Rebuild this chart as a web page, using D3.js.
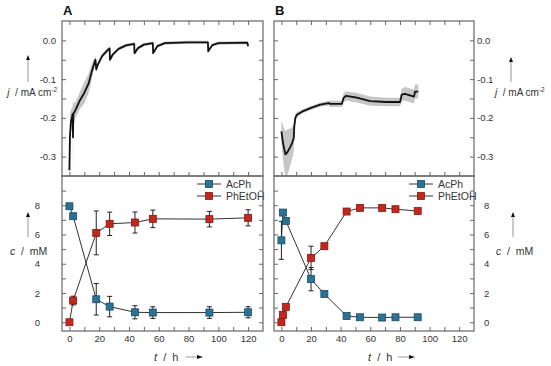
<!DOCTYPE html>
<html>
<head>
<meta charset="utf-8">
<script src="https://cdn.jsdelivr.net/npm/d3@7"></script>
<style>
body { margin: 0; background: #fff; }
svg { font-family: Arial, "Liberation Sans", sans-serif; }
.title { white-space: pre; }
</style>
</head>
<body>
<svg id="chart" width="551" height="366"></svg>
<script>
// current density traces (mean and spread), panel A
const tA = [0, 0.3, 1, 2.2, 2.4, 2.6, 4, 7, 10, 13, 15, 17, 17.5, 18, 19, 22, 26, 27, 27.2, 29, 33, 38, 43.5, 43.7, 46, 50, 56, 56.2, 59, 64, 80, 93, 93.2, 96, 100, 119.5, 120];
const jA = [-0.335, -0.25, -0.21, -0.19, -0.25, -0.19, -0.18, -0.155, -0.135, -0.11, -0.08, -0.055, -0.05, -0.075, -0.063, -0.04, -0.024, -0.021, -0.05, -0.037, -0.022, -0.013, -0.009, -0.033, -0.02, -0.011, -0.007, -0.033, -0.015, -0.007, -0.005, -0.005, -0.028, -0.012, -0.007, -0.006, -0.015];
const sA = [0.015, 0.06, 0.03, 0.02, 0.1, 0.03, 0.02, 0.022, 0.028, 0.025, 0.02, 0.012, 0.01, 0.008, 0.006, 0.006, 0.006, 0.005, 0.005, 0.005, 0.004, 0.004, 0.004, 0.005, 0.004, 0.004, 0.004, 0.005, 0.004, 0.004, 0.004, 0.004, 0.005, 0.004, 0.004, 0.004, 0.004];

// panel B
const tB = [0, 1.1, 2.7, 3.8, 5.6, 7.2, 8.3, 8.7, 9.4, 10.5, 13.9, 19.5, 26.2, 31.9, 33, 40.8, 41.9, 43.7, 50.9, 59.9, 71.1, 80.1, 81.2, 83.4, 87.9, 89.5, 90.2, 92.4];
const jB = [-0.235, -0.265, -0.294, -0.29, -0.278, -0.265, -0.253, -0.222, -0.2, -0.192, -0.184, -0.175, -0.166, -0.162, -0.164, -0.164, -0.149, -0.143, -0.148, -0.157, -0.159, -0.159, -0.14, -0.138, -0.143, -0.145, -0.132, -0.132];
const sB = [0.03, 0.045, 0.06, 0.06, 0.05, 0.04, 0.035, 0.02, 0.01, 0.007, 0.005, 0.005, 0.005, 0.006, 0.008, 0.008, 0.012, 0.012, 0.012, 0.012, 0.011, 0.011, 0.016, 0.018, 0.018, 0.018, 0.018, 0.018];

// concentrations, panel A
const timesA = [0, 2.5, 18, 27, 44, 56, 94, 120];
const acphA = [7.93, 7.25, 1.57, 1.07, 0.68, 0.66, 0.66, 0.68];
const acphErrA = [0.1, 0.1, 1.08, 0.7, 0.45, 0.4, 0.4, 0.38];
const phetA = [0, 1.48, 6.11, 6.73, 6.82, 7.07, 7.05, 7.14];
const phetErrA = [0, 0.3, 1.5, 0.8, 0.72, 0.6, 0.53, 0.55];

// concentrations, panel B
const timesB = [0, 1, 3, 20, 29, 44, 53, 68, 77, 92];
const acphB = [5.6, 7.5, 6.93, 2.95, 1.93, 0.43, 0.34, 0.32, 0.34, 0.34];
const acphErrB = [1.3, 0, 0, 0.8, 0, 0.15, 0.1, 0.1, 0.1, 0.1];
const phetB = [0, 0.5, 1.05, 4.4, 5.2, 7.57, 7.82, 7.82, 7.73, 7.6];
const phetErrB = [0, 0, 0, 0.8, 0, 0.1, 0.1, 0.1, 0.1, 0];

const seriesNames = ["AcPh", "PhEtOH"];
const seriesColors = ["#2b7396", "#c4271c"];

const xMajor = [0, 20, 40, 60, 80, 100, 120];
const xMinor = [10, 30, 50, 70, 90, 110];
const jMajor = [0, -0.1, -0.2, -0.3];
const jMinor = [-0.05, -0.15, -0.25];
const cMajor = [0, 2, 4, 6, 8];
const cMinor = [1, 3, 5, 7, 9];

const svg = d3.select("#chart");
const frameColor = "#666";
const textColor = "#333";

const yTop = d3.scaleLinear().domain([-0.35, 0.05]).range([176, 21]);
const yBot = d3.scaleLinear().domain([-0.6, 10]).range([331, 176]);

function addTicks(axisFn, scale, transform, majors, minors, fmt, pad) {
    const g = svg.append("g").attr("transform", transform);
    const major = axisFn(scale).tickValues(majors).tickSize(-4).tickPadding(pad)
        .tickFormat(fmt ? fmt : () => "");
    g.call(major);
    g.append("g").call(axisFn(scale).tickValues(minors).tickSize(-4).tickFormat(() => ""));
    g.selectAll(".domain").remove();
    g.selectAll("line").attr("stroke", frameColor);
    g.selectAll("text").attr("fill", textColor).style("font-size", "9.5px").attr("font-family", null);
    return g;
}

function arrowUp(x, y1, y2) {
    svg.append("line").attr("x1", x).attr("x2", x).attr("y1", y1).attr("y2", y2 + 4)
        .attr("stroke", "#999").attr("stroke-width", 1);
    svg.append("path").attr("d", `M${x - 2},${y2 + 5}L${x},${y2}L${x + 2},${y2 + 5}Z`).attr("fill", "#111");
}

function arrowRight(x1, x2, y) {
    svg.append("line").attr("x1", x1).attr("x2", x2 - 4).attr("y1", y).attr("y2", y)
        .attr("stroke", "#999").attr("stroke-width", 1);
    svg.append("path").attr("d", `M${x2 - 6},${y - 2}L${x2},${y}L${x2 - 6},${y + 2}Z`).attr("fill", "#111");
}

function jTitle(x, anchor) {
    const t = svg.append("text").attr("class", "title").attr("x", x).attr("y", 96).attr("text-anchor", anchor)
        .attr("fill", textColor).style("font-size", "10px");
    t.append("tspan").style("font-style", "italic").text("j");
    t.append("tspan").text("  / mA cm");
    t.append("tspan").attr("dy", -4).style("font-size", "6.5px").text("-2");
}

function cTitle(x) {
    const t = svg.append("text").attr("class", "title").attr("x", x).attr("y", 255)
        .attr("fill", textColor).style("font-size", "10.5px");
    t.append("tspan").style("font-style", "italic").text("c");
    t.append("tspan").text("  /  mM");
}

function tTitle(x) {
    const t = svg.append("text").attr("class", "title").attr("x", x).attr("y", 361)
        .attr("fill", textColor).style("font-size", "11px");
    t.append("tspan").style("font-style", "italic").text("t");
    t.append("tspan").text("  /  h");
}

function drawPanel(p) {
    const x = d3.scaleLinear().domain([-5, 130]).range([p.left, p.right]);

    const clipId = "clip" + p.name;
    svg.append("clipPath").attr("id", clipId)
        .append("rect").attr("x", p.left).attr("y", 21).attr("width", p.right - p.left).attr("height", 155);

    // top panel: current density band + mean curve
    const pts = p.t.map((t, i) => ({ t: t, j: p.j[i], s: p.s[i] }));
    const area = d3.area().x(d => x(d.t)).y0(d => yTop(d.j - d.s)).y1(d => yTop(d.j + d.s));
    const line = d3.line().x(d => x(d.t)).y(d => yTop(d.j));
    const gTop = svg.append("g").attr("clip-path", `url(#${clipId})`);
    gTop.append("path").datum(pts).attr("d", area).attr("fill", "#c6c6c6");
    gTop.append("path").datum(pts).attr("d", line).attr("fill", "none")
        .attr("stroke", "#111").attr("stroke-width", 1.8).attr("stroke-linejoin", "round");

    // bottom panel: concentrations
    const series = [
        { vals: p.acph, errs: p.acphErr, color: seriesColors[0] },
        { vals: p.phet, errs: p.phetErr, color: seriesColors[1] }
    ];
    const cLine = d3.line().x(d => x(d.t)).y(d => yBot(d.c));
    series.forEach(s => {
        const data = p.times.map((t, i) => ({ t: t, c: s.vals[i], e: s.errs[i] }));
        svg.append("path").datum(data).attr("d", cLine).attr("fill", "none")
            .attr("stroke", "#333").attr("stroke-width", 1);
        s.data = data;
    });
    series.forEach(s => {
        const eb = svg.append("g").selectAll("g").data(s.data.filter(d => d.e > 0)).join("g");
        eb.append("line").attr("x1", d => x(d.t)).attr("x2", d => x(d.t))
            .attr("y1", d => yBot(d.c - d.e)).attr("y2", d => yBot(d.c + d.e))
            .attr("stroke", "#222").attr("stroke-width", 1);
        [-1, 1].forEach(k => {
            eb.append("line").attr("x1", d => x(d.t) - 2.5).attr("x2", d => x(d.t) + 2.5)
                .attr("y1", d => yBot(d.c + k * d.e)).attr("y2", d => yBot(d.c + k * d.e))
                .attr("stroke", "#222").attr("stroke-width", 1);
        });
    });
    series.forEach(s => {
        svg.append("g").selectAll("rect").data(s.data).join("rect")
            .attr("x", d => x(d.t) - 3.5).attr("y", d => yBot(d.c) - 3.5)
            .attr("width", 7).attr("height", 7)
            .attr("fill", s.color).attr("stroke", d3.color(s.color).darker(1.2)).attr("stroke-width", 0.8);
    });

    // legend
    seriesNames.forEach((name, i) => {
        const ly = 184 + i * 12;
        svg.append("line").attr("x1", p.legendX).attr("x2", p.legendX + 24).attr("y1", ly).attr("y2", ly)
            .attr("stroke", "#333").attr("stroke-width", 1);
        svg.append("rect").attr("x", p.legendX + 8.5).attr("y", ly - 3.5).attr("width", 7).attr("height", 7)
            .attr("fill", seriesColors[i]).attr("stroke", d3.color(seriesColors[i]).darker(1.2)).attr("stroke-width", 0.8);
        svg.append("text").attr("x", p.legendX + 29).attr("y", ly + 3.7)
            .attr("fill", textColor).style("font-size", "10.5px").text(name);
    });

    // ticks
    const jFmt = d => d.toFixed(1);
    const cFmt = d => String(d);
    addTicks(d3.axisTop, x, "translate(0,21)", xMajor, xMinor, null, 3);
    addTicks(d3.axisBottom, x, "translate(0,176)", xMajor, xMinor, null, 3);
    addTicks(d3.axisBottom, x, "translate(0,331)", xMajor, xMinor, cFmt, 4);
    addTicks(d3.axisLeft, yTop, `translate(${p.left},0)`, jMajor, jMinor, p.labelsLeft ? jFmt : null, 6);
    addTicks(d3.axisRight, yTop, `translate(${p.right},0)`, jMajor, jMinor, p.labelsLeft ? null : jFmt, 3);
    addTicks(d3.axisLeft, yBot, `translate(${p.left},0)`, cMajor, cMinor, p.labelsLeft ? cFmt : null, 22);
    addTicks(d3.axisRight, yBot, `translate(${p.right},0)`, cMajor, cMinor, p.labelsLeft ? null : cFmt, 10);

    // frames
    [[21, 176], [176, 331]].forEach(r => {
        svg.append("rect").attr("x", p.left).attr("y", r[0])
            .attr("width", p.right - p.left).attr("height", r[1] - r[0])
            .attr("fill", "none").attr("stroke", frameColor).attr("stroke-width", 1.2);
    });

    // panel letter
    svg.append("text").attr("x", p.left + 1).attr("y", 15).attr("fill", "#111")
        .style("font-size", "13px").style("font-weight", "bold").text(p.name);
}

drawPanel({
    name: "A", left: 62, right: 263, labelsLeft: true, legendX: 197,
    t: tA, j: jA, s: sA,
    times: timesA, acph: acphA, acphErr: acphErrA, phet: phetA, phetErr: phetErrA
});
drawPanel({
    name: "B", left: 274, right: 474, labelsLeft: false, legendX: 409,
    t: tB, j: jB, s: sB,
    times: timesB, acph: acphB, acphErr: acphErrB, phet: phetB, phetErr: phetErrB
});

// axis titles with arrows
arrowUp(28, 82, 55);
jTitle(57, "end");
arrowUp(511, 82, 57);
jTitle(495, "start");

arrowUp(28, 237, 212);
cTitle(10);
arrowUp(513, 237, 212);
cTitle(496);

tTitle(154);
arrowRight(186, 203, 357);
tTitle(368);
arrowRight(398, 415, 357);
</script>
</body>
</html>
